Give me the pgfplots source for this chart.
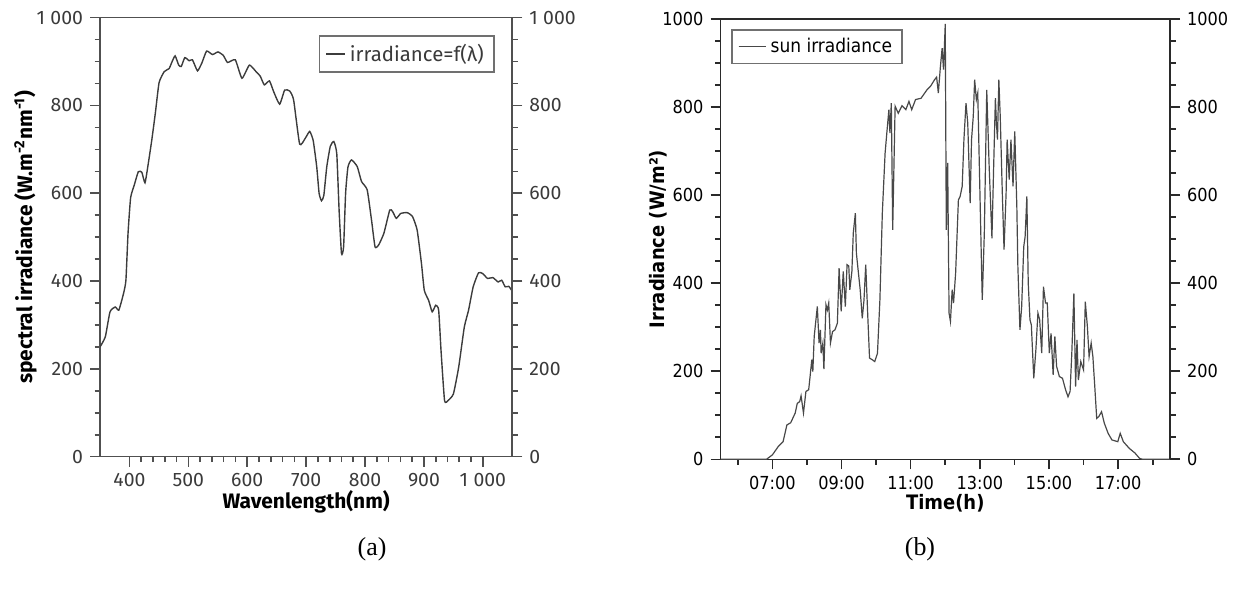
\documentclass[border=0pt]{standalone}
\usepackage{fontspec}
\setmainfont{Liberation Serif}
\newfontfamily\lf{Fira Sans}
\newfontfamily\rf{DejaVu Sans Condensed}
\usepackage{pgfplots}
\usepackage{pgfplotstable}
\pgfplotsset{compat=1.18}
\definecolor{laxis}{HTML}{505050}
\definecolor{ltext}{HTML}{3A3A3A}
\definecolor{lcurve}{HTML}{3C3C3C}
\definecolor{raxis}{HTML}{2A2A2A}
\definecolor{rcurve}{HTML}{484848}
\definecolor{legbox}{HTML}{707070}

\pgfplotstableread{
lam v
350 250
359 273
367 330
376 341
382 334
390 372
394 402
397.6 509
402 590
408 618
415 649
421 648
426.4 624
432 668
438 722
444 783
450.3 852
459 877
467.3 884
471.5 897
477.5 913
483.6 892
488 889
494 909
501.4 902
507 904
515.5 879
523 897
531 924
541 916
550.3 922
559.4 914
566.6 898
579.7 904
591 862
603.6 892
615 877
622 867
629 847
637.7 856
645 831
655 803
663.5 835
672 833
678.7 813
689 712
698.8 726
706 741
712 720
718 660
722 600
726 583
730 595
735 660
741 707
747 718
752 690
756 560
760 463
763.6 478
767 600
771 660
777 676
786.7 661
794 627
803.6 608
811 539
817 478
823 482
832 509
842 562
847 558
853 543
860.6 554
871.5 556
880.6 547
888.5 516
895.8 440
900.6 379
908 356
914 330
920 345
925 334
929 242
935 128
941 128
950 143
959 204
968.5 295
975.8 334
983.6 387
992.7 419
1000 417
1008 406
1017 408
1026 398
1032 402
1038 387
1044 388
1049 379
}\spectrum

\pgfplotstableread{
t v
5.50 0
6.83 0
7.00 10
7.17 29
7.31 40
7.42 78
7.53 83
7.66 105
7.72 127
7.79 131
7.83 144
7.90 105
7.97 154
8.05 158
8.08 180
8.14 226
8.17 199
8.21 279
8.30 347
8.35 264
8.39 294
8.41 241
8.46 264
8.49 205
8.55 351
8.59 339
8.63 355
8.68 264
8.74 290
8.81 294
8.88 309
8.93 434
8.99 336
9.05 427
9.11 347
9.16 442
9.21 439
9.24 385
9.30 427
9.34 514
9.40 559
9.43 468
9.48 430
9.54 385
9.60 320
9.65 362
9.70 442
9.76 324
9.81 230
9.89 226
9.96 222
10.04 241
10.11 362
10.18 559
10.26 695
10.31 741
10.37 794
10.40 741
10.44 809
10.48 521
10.55 802
10.64 786
10.75 803
10.86 794
10.95 813
11.03 794
11.14 817
11.30 820
11.47 839
11.58 848
11.69 862
11.75 868
11.80 832
11.86 892
11.91 934
11.95 885
12.00 989
12.03 521
12.07 673
12.11 332
12.15 313
12.20 385
12.24 355
12.30 423
12.38 589
12.43 597
12.49 620
12.54 726
12.60 809
12.65 764
12.72 582
12.76 726
12.81 779
12.85 862
12.90 817
12.94 832
12.98 688
13.07 362
13.13 514
13.20 839
13.27 665
13.35 502
13.40 665
13.45 820
13.48 764
13.51 726
13.55 862
13.59 779
13.65 605
13.70 476
13.76 605
13.79 726
13.85 635
13.90 726
13.96 620
14.01 745
14.07 574
14.10 438
14.16 294
14.21 347
14.27 483
14.31 506
14.36 597
14.40 400
14.45 317
14.49 305
14.56 184
14.62 248
14.68 332
14.73 317
14.79 241
14.84 392
14.90 355
14.95 355
15.01 241
15.06 286
15.12 192
15.17 279
15.22 211
15.30 188
15.39 184
15.48 158
15.55 142
15.61 154
15.66 241
15.72 377
15.77 165
15.81 271
15.85 180
15.92 222
16.00 203
16.05 358
16.11 302
16.16 233
16.22 264
16.27 233
16.33 158
16.38 93
16.44 97
16.52 108
16.60 82
16.71 59
16.82 44
16.99 40
17.06 59
17.15 40
17.32 25
17.49 14
17.62 2
17.71 0
18.50 0
}\sun

\begin{document}
\begin{tikzpicture}
\path[use as bounding box] (0,0) rectangle (618.5bp,296bp);
\pgfplotsset{
 base/.style={scale only axis, anchor=south west, ymin=0, ymax=1000,
   ytick={0,200,...,1000}, minor y tick num=3,
   major tick length=5bp, minor tick length=2.75bp,
   /pgf/number format/assume math mode=true},
 lgeo/.style={at={(50bp,67.65bp)}, width=206.15bp, height=219.5bp,
   xmin=350, xmax=1050,
   axis line style={draw=laxis, line width=0.8bp},
   tick style={draw=laxis, line width=0.8bp},
   tick label style={font=\lf\fontsize{9.75}{11}\selectfont, text=ltext},
   /pgf/number format/1000 sep={\hspace{0.28em}}},
 rgeo/.style={at={(360.25bp,66.35bp)}, width=224.75bp, height=220.15bp,
   xmin=5.5, xmax=18.5,
   axis line style={draw=raxis, line width=0.8bp},
   tick style={draw=raxis, line width=0.8bp},
   tick label style={font=\rf\fontsize{9}{11}\selectfont, text=black},
   /pgf/number format/1000 sep={}},
}

% ---------- (a) spectral irradiance ----------
\begin{axis}[base, lgeo, tick align=outside,
  xtick={400,500,...,1000}, minor x tick num=4,
  xtick pos=left, ytick pos=left,
  xlabel={\bfseries Wavenlength(nm)},
  ylabel={\bfseries spectral irradiance (W.m\textsuperscript{-2}nm\textsuperscript{-1})},
  label style={font=\lf\fontsize{10.5}{12}\selectfont, text=black},
  xlabel style={at={(axis description cs:0.5,-0.117)}, anchor=base},
  ylabel style={at={(axis description cs:-0.1644,0.5)}, anchor=base},
  legend style={at={(0.957,0.9606)}, anchor=north east, draw=legbox,
    line width=0.9bp, font=\lf\fontsize{10.25}{12}\selectfont, text=ltext},
  legend image code/.code={\draw[#1] (0bp,0bp) -- (9.5bp,0bp);},
]
\addplot[lcurve, line width=0.7bp, smooth, tension=0.3] table[x=lam,y=v]{\spectrum};
\addlegendentry{irradiance=f(λ)}
\end{axis}
\begin{axis}[base, lgeo, axis x line=none, axis y line*=right, tick align=outside]
\end{axis}

% ---------- (b) sun irradiance ----------
\begin{axis}[base, rgeo, tick align=outside,
  xtick={7,9,...,17}, xticklabels={07:00,09:00,11:00,13:00,15:00,17:00},
  minor xtick={6,8,...,18},
  xtick pos=left, ytick pos=left,
  xlabel={\bfseries Time(h)},
  ylabel={\bfseries Irradiance (W/m²)},
  label style={font=\rf\fontsize{10}{12}\selectfont, text=black},
  xlabel style={at={(axis description cs:0.5,-0.1136)}, anchor=base},
  ylabel style={at={(axis description cs:-0.125,0.5)}, anchor=base},
  legend style={at={(0.0234,0.9766)}, anchor=north west, draw=legbox,
    line width=0.9bp, font=\rf\fontsize{9.5}{11}\selectfont, text=black},
  legend image code/.code={\draw[#1] (0bp,0bp) -- (10.8bp,0bp); \path (0bp,0bp) -- (13.8bp,0bp);},
]
\addplot[rcurve, line width=0.6bp] table[x=t,y=v]{\sun};
\addlegendentry{sun irradiance}
\end{axis}
\begin{axis}[base, rgeo, axis x line=none, axis y line*=right, tick align=outside]
\end{axis}

\node[font=\fontsize{13}{15}\selectfont, anchor=base] at (186bp,18.25bp) {(a)};
\node[font=\fontsize{13}{15}\selectfont, anchor=base] at (460bp,18.25bp) {(b)};
\end{tikzpicture}
\end{document}
